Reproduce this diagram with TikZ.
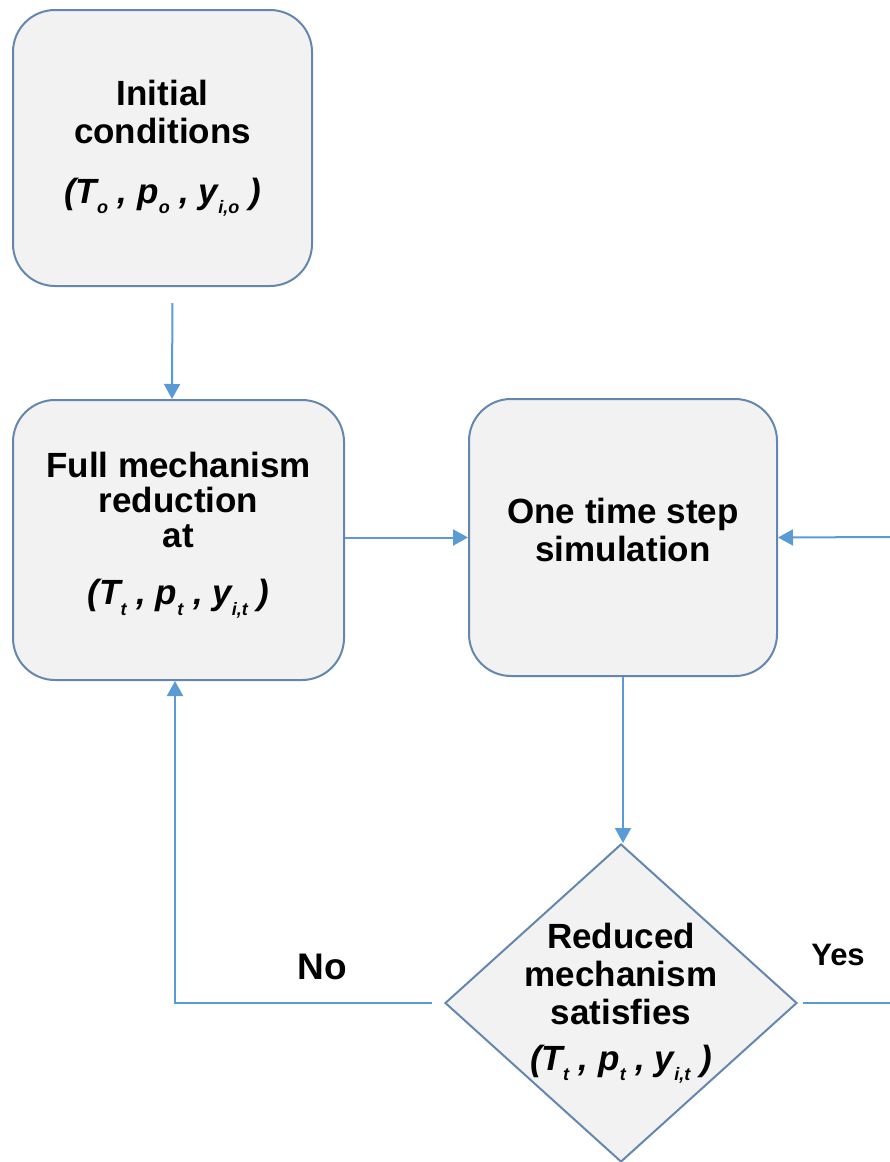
\documentclass[tikz,border=0pt]{standalone}
\usepackage{fontspec}
\setmainfont{Liberation Sans}
\usetikzlibrary{shapes.geometric,arrows.meta}
\definecolor{boxline}{RGB}{100,135,175}
\definecolor{boxfill}{RGB}{242,242,242}
\definecolor{arrowblue}{RGB}{91,155,213}
\newcommand{\sub}[1]{\raisebox{-0.3em}{\fontsize{18}{18}\selectfont #1}}

\begin{document}
\begin{tikzpicture}[x=1pt,y=-1pt,
            block/.style={draw=boxline,fill=boxfill,line width=2pt,rounded corners=42pt,
                align=center,font=\fontsize{35}{38}\selectfont\bfseries},
            decision/.style={draw=boxline,fill=boxfill,line width=2pt,diamond,
                minimum width=352pt,minimum height=318pt,inner sep=0pt},
            boxtext/.style={align=center,font=\fontsize{35}{38}\selectfont\bfseries},
            flow/.style={draw=arrowblue,line width=2pt,-{Triangle[width=16pt,length=15pt]}},
            plain/.style={draw=arrowblue,line width=2pt}]
            \useasboundingbox (0,0) rectangle (890,1162);

            \node[block,minimum width=299pt,minimum height=276pt] (init) at (162.5,148)
                {Initial\\conditions\\[22pt]{\itshape (T\sub{o} , p\sub{o} , y\sub{i,o} )}};
            \node[block,minimum width=331pt,minimum height=280pt,
                font=\fontsize{35}{35}\selectfont\bfseries] (full) at (178.5,540)
                {Full mechanism\\reduction\\at\\[22pt]{\itshape (T\sub{t} , p\sub{t} , y\sub{i,t} )}\\[-12pt]};
            \node[block,minimum width=308pt,minimum height=277pt] (onestep) at (623,537.5)
                {One time step\\simulation\\[-22pt]};
            \node[decision] (check) at (621,1003) {};
            \node[boxtext] (checktext) at (621,1003)
                {Reduced\\mechanism\\satisfies\\[8pt]{\itshape (T\sub{t} , p\sub{t} , y\sub{i,t} )}};

            \coordinate (feed) at (890,537);
            \coordinate (nobend) at (175,1003);
            \coordinate (yesend) at (890,1003);

            \draw[flow,shorten <=16pt] ([xshift=10pt]init.south) -- ([xshift=-6.5pt]full.north);
            \draw[flow] (full.east |- onestep.west) -- (onestep.west);
            \draw[flow] (feed) -- (onestep.east);
            \draw[flow] (onestep.south) -- (onestep.south |- check.north);
            \draw[flow,shorten <=12pt] (check.west) -- (nobend) -- (nobend |- full.south);
            \draw[plain,shorten <=5pt] (check.east) -- (yesend);

            \node[font=\fontsize{37}{37}\selectfont\bfseries] (no) at (322,967) {No};
            \node[font=\fontsize{31}{31}\selectfont\bfseries] (yes) at (838,955) {Yes};
        \end{tikzpicture}
\end{document}
